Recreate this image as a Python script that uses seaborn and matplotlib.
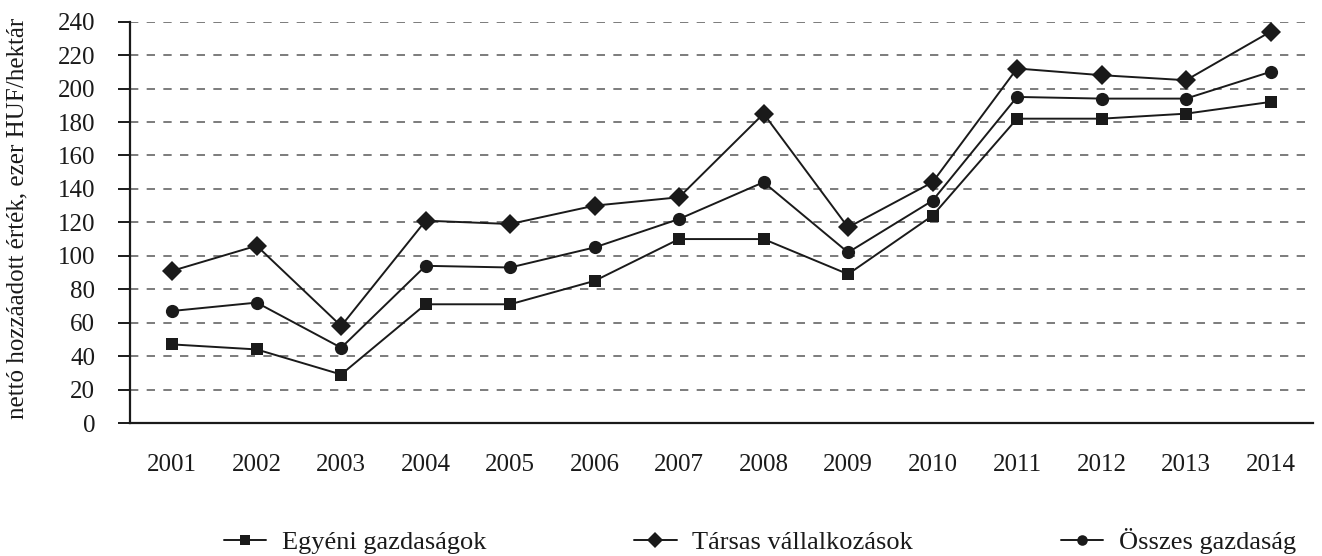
import pandas as pd
import matplotlib.pyplot as plt
import seaborn as sns
from matplotlib.lines import Line2D

sns.set_theme(style="white")
plt.rcParams['font.family'] = ['Liberation Serif', 'DejaVu Serif']

# ---------------- data ----------------
years = ['2001', '2002', '2003', '2004', '2005', '2006', '2007',
         '2008', '2009', '2010', '2011', '2012', '2013', '2014']
egyeni = [47, 44, 29, 71, 71, 85, 110, 110, 89, 124, 182, 182, 185, 192]
tarsas = [91, 106, 58, 121, 119, 130, 135, 185, 117, 144, 212, 208, 205, 234]
osszes = [67, 72, 45, 94, 93, 105, 122, 144, 102, 133, 195, 194, 194, 210]
series_names = ['Egyéni gazdaságok', 'Társas vállalkozások', 'Összes gazdaság']
yticks = list(range(0, 241, 20))

df = pd.concat([
    pd.DataFrame({'year': years, 'value': vals, 'series': name})
    for name, vals in zip(series_names, [egyeni, tarsas, osszes])
], ignore_index=True)
df['x'] = df['year'].map({y: i for i, y in enumerate(years)})

markers = {'Egyéni gazdaságok': 's', 'Társas vállalkozások': 'D', 'Összes gazdaság': 'o'}
msizes = {'Egyéni gazdaságok': 9, 'Társas vállalkozások': 10.5, 'Összes gazdaság': 9.5}

fig = plt.figure(figsize=(13.22, 5.56), dpi=100)
ax = fig.add_axes([0.0983, 0.2392, 0.8947, 0.7218])

sns.lineplot(data=df, x='x', y='value', hue='series', style='series',
             palette=['#1a1a1a'] * 3, markers=markers, dashes=False,
             linewidth=1.4, markeredgewidth=0, legend=False, ax=ax)
for line, name in zip(ax.lines, series_names):
    line.set_markersize(msizes[name])

# axes styling
ax.set_xlim(-0.5, len(years) - 0.5)
ax.set_ylim(0, 240)
ax.set_yticks(yticks)
ax.set_xticks(range(len(years)))
ax.set_xticklabels(years)
ax.set_xticks([i - 0.5 for i in range(len(years) + 1)], minor=True)
ax.tick_params(axis='x', which='major', length=0, pad=22, labelsize=18, colors='#1a1a1a')
ax.tick_params(axis='x', which='minor', length=9, width=1.4, direction='out', color='#1a1a1a')
ax.tick_params(axis='y', length=9, width=1.4, direction='out', pad=16, labelsize=18,
               left=True, colors='#1a1a1a')
ax.set_xlabel('')
ax.set_ylabel('nettó hozzáadott érték, ezer HUF/hektár', fontsize=18, color='#1a1a1a')
ax.yaxis.set_label_coords(-0.086, 0.51)

for side in ['top', 'right']:
    ax.spines[side].set_visible(False)
for side in ['left', 'bottom']:
    ax.spines[side].set_linewidth(1.6)
    ax.spines[side].set_color('#1a1a1a')

for y in yticks[1:]:
    ax.axhline(y, color='#666666', linewidth=1.2, linestyle=(0, (5, 5)), zorder=0)

# legend
handles = [Line2D([0], [0], color='#1a1a1a', lw=1.4, marker=markers[n],
                  markersize=msizes[n] * 0.8, markeredgewidth=0) for n in series_names]
fig.legend(handles, series_names, loc='center', bbox_to_anchor=(0.575, 0.027), ncol=3,
           frameon=False, fontsize=19, handlelength=1.6, handletextpad=0.6,
           columnspacing=5.6, labelcolor='#1a1a1a')

fig.savefig('out.png', dpi=100)
